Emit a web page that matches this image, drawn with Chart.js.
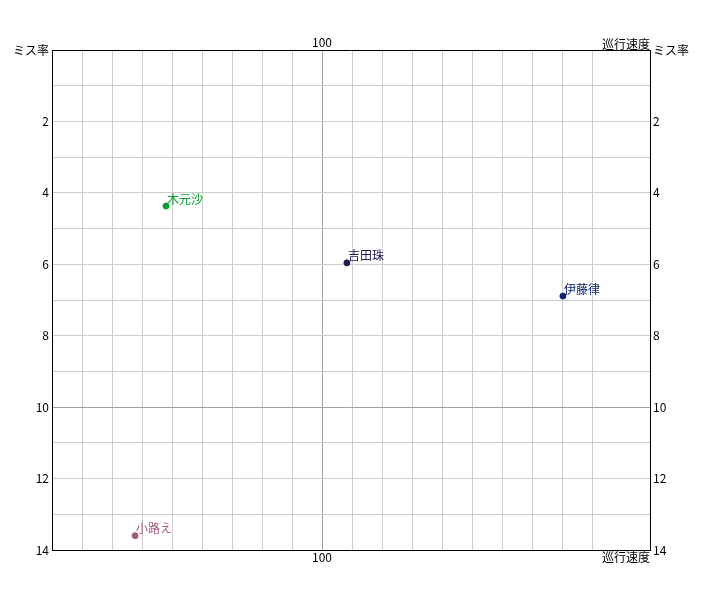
<!DOCTYPE html>
<html>
<head>
<meta charset="utf-8">
<script src="https://cdn.jsdelivr.net/npm/chart.js@4/dist/chart.umd.min.js"></script>
<style>
  body { margin: 0; background: #fff; }
  #wrap { width: 702px; height: 600px; }
</style>
</head>
<body>
<div id="wrap"><canvas id="missChart" width="702" height="600"></canvas></div>
<script>
// データ
const names = ['木元沙', '吉田珠', '伊藤律', '小路え'];
const speeds = [48, 108.3, 180.3, 37.7];
const missRates = [4.37, 5.96, 6.89, 13.6];
const pointColors = ['#00a028', '#1c1a50', '#0c2272', '#a05c7c'];
const xLabelTicks = [100];
const yLabelTicks = [2, 4, 6, 8, 10, 12, 14];

const xTitle = '巡行速度';
const yTitle = 'ミス率';
const fontFamily = '"Noto Sans CJK JP", "DejaVu Sans", sans-serif';

const points = speeds.map(function (s, i) {
  return { x: s, y: missRates[i] };
});

function near(a, b) { return Math.abs(a - b) < 0.01; }

function gridColor(ctx) {
  const v = ctx.tick ? ctx.tick.value : null;
  if (v === null) return '#cccccc';
  if (ctx.scale.axis === 'x' && (near(v, 100) || near(v, 200))) return '#a0a0a0';
  if (ctx.scale.axis === 'y' && near(v, 10)) return '#a0a0a0';
  return '#cccccc';
}

function xTickLabel(value) {
  return xLabelTicks.some(function (t) { return near(t, value); }) ? String(Math.round(value)) : '';
}
function yTickLabel(value) {
  if (near(value, 0)) return yTitle;
  return yLabelTicks.some(function (t) { return near(t, value); }) ? String(Math.round(value)) : '';
}

// ラベル（名前と軸タイトル）を描く
const labelPlugin = {
  id: 'labelPlugin',
  afterDatasetsDraw(chart) {
    const ctx = chart.ctx;
    const meta = chart.getDatasetMeta(0);
    const area = chart.chartArea;
    ctx.save();
    ctx.font = '12px ' + fontFamily;
    ctx.textAlign = 'left';
    ctx.textBaseline = 'bottom';
    meta.data.forEach(function (pt, i) {
      ctx.fillStyle = pointColors[i];
      ctx.fillText(names[i], pt.x + 1, pt.y - 1);
    });
    ctx.fillStyle = '#000';
    ctx.textAlign = 'right';
    ctx.textBaseline = 'bottom';
    ctx.fillText(xTitle, area.right, area.top);
    ctx.textBaseline = 'top';
    ctx.fillText(xTitle, area.right, area.bottom + 1);
    ctx.restore();
  }
};

const commonX = {
  type: 'linear',
  min: 10,
  max: 209.33,
  border: { color: '#000', width: 1 },
  ticks: {
    stepSize: 10,
    autoSkip: false,
    maxRotation: 0,
    padding: 0,
    color: '#000',
    font: { size: 12, family: fontFamily },
    callback: xTickLabel
  }
};
const commonY = {
  type: 'linear',
  reverse: true,
  min: 0,
  max: 14,
  border: { color: '#000', width: 1 },
  ticks: {
    stepSize: 1,
    autoSkip: false,
    padding: 3,
    color: '#000',
    font: { size: 12, family: fontFamily },
    callback: yTickLabel
  }
};

const config = {
  type: 'scatter',
  data: {
    datasets: [{
      data: points,
      pointBackgroundColor: pointColors,
      pointBorderColor: pointColors,
      pointRadius: 3,
      pointHoverRadius: 3
    }]
  },
  options: {
    responsive: false,
    animation: false,
    layout: { padding: 0 },
    plugins: { legend: { display: false }, tooltip: { enabled: false } },
    scales: {
      x: Object.assign({}, commonX, {
        position: 'bottom',
        grid: { color: gridColor, drawTicks: false },
        afterFit(scale) { scale.height = 50; }
      }),
      x2: Object.assign({}, commonX, {
        position: 'top',
        grid: { display: false, drawTicks: false },
        afterFit(scale) { scale.height = 50; }
      }),
      y: Object.assign({}, commonY, {
        position: 'left',
        grid: { color: gridColor, drawTicks: false },
        afterFit(scale) { scale.width = 52; }
      }),
      y2: Object.assign({}, commonY, {
        position: 'right',
        grid: { display: false, drawTicks: false },
        afterFit(scale) { scale.width = 52; }
      })
    }
  },
  plugins: [labelPlugin]
};

const missChart = new Chart(document.getElementById('missChart'), config);
</script>
</body>
</html>
